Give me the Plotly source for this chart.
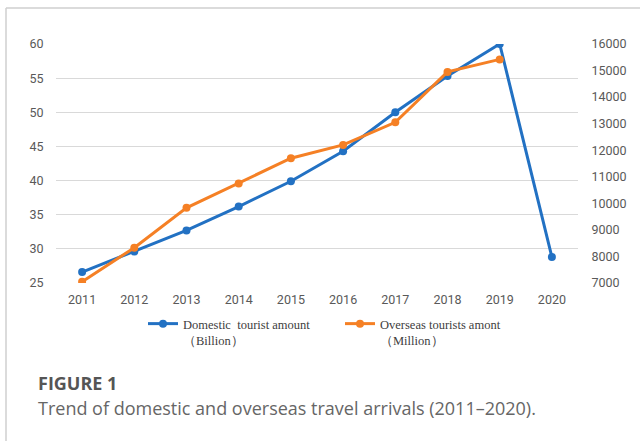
import plotly.graph_objects as go

years = ["2011", "2012", "2013", "2014", "2015", "2016", "2017", "2018", "2019", "2020"]
domestic_billion = [26.6, 29.6, 32.7, 36.2, 39.9, 44.3, 50.0, 55.3, 60.0, 28.8]
overseas_years = ["2011", "2012", "2013", "2014", "2015", "2016", "2017", "2018", "2019"]
overseas_million = [7050, 8330, 9830, 10750, 11700, 12200, 13050, 14950, 15420]

left_ticks = [25, 30, 35, 40, 45, 50, 55, 60]
right_ticks = [7000, 8000, 9000, 10000, 11000, 12000, 13000, 14000, 15000, 16000]

name_dom = "Domestic\u00a0\u00a0tourist amount<br>（Billion）"
name_ovs = "Overseas tourists amont<br>（Million）"
caption_title = "FIGURE 1"
caption_text = "Trend of domestic and overseas travel arrivals (2011\u20132020)."

BLUE = "#2271C3"
ORANGE = "#F58025"
TICK_FONT = dict(family="Roboto", size=12.5, color="#595959")

W, H = 640, 441
L, R, T, B = 56, 62, 44, 158
pw, ph = W - L - R, H - T - B

def px(x):
    return (x - L) / pw

def py(y):
    return (H - B - y) / ph

fig = go.Figure()
fig.add_trace(go.Scatter(
    x=years, y=domestic_billion, name=name_dom, mode="lines+markers",
    line=dict(color=BLUE, width=3), marker=dict(color=BLUE, size=8),
    yaxis="y"))
fig.add_trace(go.Scatter(
    x=overseas_years, y=overseas_million, name=name_ovs, mode="lines+markers",
    line=dict(color=ORANGE, width=3), marker=dict(color=ORANGE, size=8),
    yaxis="y2"))

fig.update_layout(
    width=W, height=H,
    margin=dict(l=L, r=R, t=T, b=B, pad=0, autoexpand=False),
    paper_bgcolor="white", plot_bgcolor="white",
    showlegend=True,
    xaxis=dict(type="category", categoryorder="array", categoryarray=years,
               range=[-0.5, 9.5], showgrid=False, zeroline=False, showline=False,
               ticks="outside", ticklen=5, tickcolor="rgba(0,0,0,0)",
               tickfont=TICK_FONT, automargin=False),
    yaxis=dict(range=[25, 60], tickvals=left_ticks, showgrid=True,
               gridcolor="#D9D9D9", gridwidth=1, zeroline=False, showline=False,
               ticks="outside", ticklen=9, tickcolor="rgba(0,0,0,0)",
               tickfont=TICK_FONT, automargin=False),
    yaxis2=dict(range=[7000, 16000], tickvals=right_ticks, tickformat="d",
                overlaying="y",
                side="right", showgrid=False, zeroline=False, showline=False,
                ticks="outside", ticklen=10, tickcolor="rgba(0,0,0,0)",
                tickfont=TICK_FONT, automargin=False),
    legend=dict(orientation="h", x=px(143), y=py(309), xanchor="left",
                yanchor="top", valign="top", entrywidth=152,
                font=dict(family="Liberation Serif", size=12.5, color="#404040"),
                bgcolor="rgba(0,0,0,0)", traceorder="normal"),
    annotations=[
        dict(text="<b>" + caption_title + "</b>", xref="paper", yref="paper",
             x=px(36), y=py(383), xanchor="left", yanchor="middle",
             showarrow=False, font=dict(family="Open Sans", size=18, color="#555555")),
        dict(text=caption_text, xref="paper", yref="paper",
             x=px(36), y=py(408), xanchor="left", yanchor="middle",
             showarrow=False, font=dict(family="Open Sans", size=18, color="#666666")),
    ],
    shapes=[
        dict(type="line", xref="paper", yref="paper", x0=px(6), x1=px(645),
             y0=py(8), y1=py(8), line=dict(color="#CFCFCF", width=1.5)),
        dict(type="line", xref="paper", yref="paper", x0=px(6), x1=px(6),
             y0=py(8), y1=py(445), line=dict(color="#CFCFCF", width=1.5)),
    ],
)

fig.write_html("out.html", config={"displayModeBar": False},
               post_script="document.body.style.margin='0';")
